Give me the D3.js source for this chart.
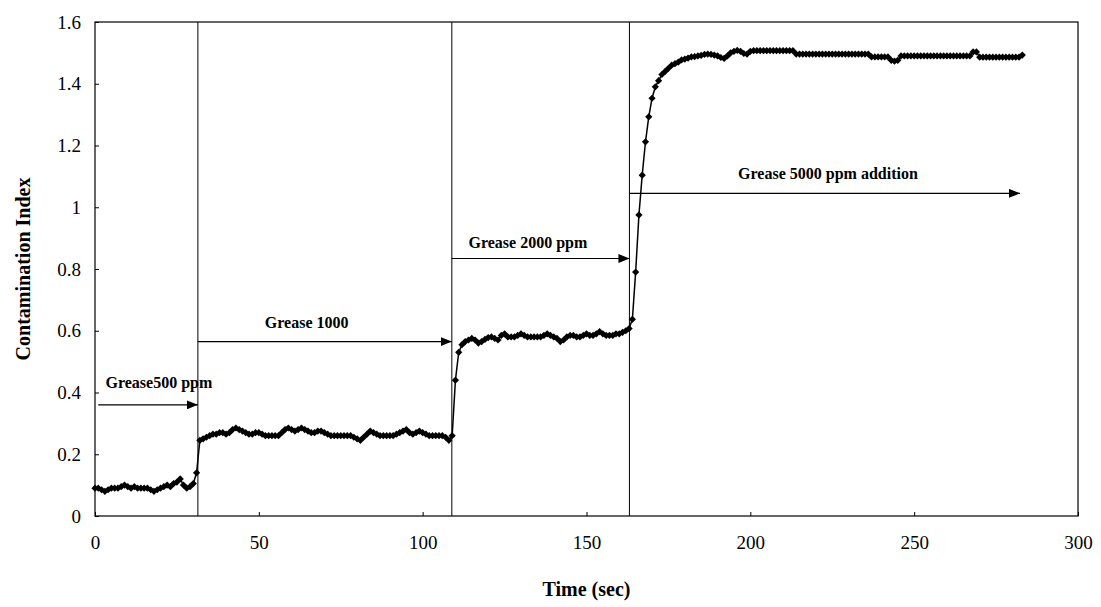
<!DOCTYPE html>
<html>
<head>
<meta charset="utf-8">
<script src="https://cdn.jsdelivr.net/npm/d3@7/dist/d3.min.js"></script>
<style>
  body { margin: 0; background: #fff; }
  text { font-family: "Liberation Serif", "Times New Roman", serif; fill: #000; }
</style>
</head>
<body>
<script>
// readings are one per second; each stage starts at the time in stageStart
var stageStart = [0, 32, 110, 164];

// t = 0 .. 31
var stage1 = [0.09, 0.09, 0.085, 0.08, 0.085, 0.09, 0.09, 0.09, 0.095, 0.1,
              0.095, 0.09, 0.095, 0.09, 0.09, 0.09, 0.09, 0.085, 0.08, 0.085,
              0.09, 0.095, 0.1, 0.095, 0.105, 0.11, 0.12, 0.1, 0.09, 0.095,
              0.105, 0.14];

// t = 32 .. 109
var stage2 = [0.245, 0.25, 0.255, 0.26, 0.265, 0.265, 0.27, 0.27, 0.265, 0.27,
              0.28, 0.285, 0.28, 0.275, 0.27, 0.265, 0.265, 0.27, 0.27, 0.265,
              0.26, 0.26, 0.26, 0.26, 0.26, 0.27, 0.28, 0.285, 0.28, 0.275,
              0.28, 0.285, 0.28, 0.275, 0.27, 0.27, 0.275, 0.275, 0.27, 0.265,
              0.26, 0.26, 0.26, 0.26, 0.26, 0.26, 0.26, 0.255, 0.25, 0.245,
              0.255, 0.265, 0.275, 0.27, 0.265, 0.26, 0.26, 0.26, 0.26, 0.26,
              0.265, 0.27, 0.275, 0.28, 0.27, 0.265, 0.27, 0.275, 0.27, 0.265,
              0.26, 0.26, 0.26, 0.26, 0.26, 0.255, 0.245, 0.26];

// t = 110 .. 163
var stage3 = [0.44, 0.53, 0.555, 0.565, 0.57, 0.575, 0.57, 0.56, 0.565, 0.572,
              0.578, 0.58, 0.575, 0.57, 0.585, 0.59, 0.58, 0.58, 0.58, 0.585,
              0.59, 0.585, 0.58, 0.58, 0.58, 0.58, 0.58, 0.585, 0.59, 0.585,
              0.58, 0.575, 0.565, 0.57, 0.58, 0.585, 0.585, 0.58, 0.58, 0.585,
              0.59, 0.585, 0.585, 0.59, 0.597, 0.59, 0.585, 0.585, 0.585, 0.59,
              0.59, 0.595, 0.6, 0.607];

// t = 164 .. 283
var stage4 = [0.637, 0.79, 0.975, 1.104, 1.212, 1.293, 1.353, 1.39, 1.41, 1.43,
              1.44, 1.45, 1.46, 1.465, 1.47, 1.477, 1.48, 1.483, 1.487, 1.488,
              1.49, 1.492, 1.495, 1.496, 1.495, 1.493, 1.49, 1.485, 1.482, 1.49,
              1.5, 1.505, 1.508, 1.505, 1.498, 1.496, 1.505, 1.507, 1.507, 1.507,
              1.507, 1.507, 1.507, 1.507, 1.507, 1.507, 1.507, 1.507, 1.507, 1.507,
              1.496, 1.496, 1.496, 1.496, 1.496, 1.496, 1.496, 1.496, 1.496, 1.496,
              1.496, 1.496, 1.496, 1.496, 1.496, 1.496, 1.496, 1.496, 1.496, 1.496,
              1.496, 1.496, 1.496, 1.487, 1.487, 1.487, 1.487, 1.487, 1.487, 1.476,
              1.473, 1.476, 1.49, 1.49, 1.49, 1.49, 1.49, 1.49, 1.49, 1.49,
              1.49, 1.49, 1.49, 1.49, 1.49, 1.49, 1.49, 1.49, 1.49, 1.49,
              1.49, 1.49, 1.49, 1.49, 1.503, 1.503, 1.486, 1.486, 1.486, 1.486,
              1.486, 1.486, 1.486, 1.486, 1.486, 1.486, 1.486, 1.486, 1.486, 1.493];

// times (sec) where the grease level was changed
var stepTimes = [31.4, 108.9, 163.1];

// annotations: text, arrow span (sec), arrow level, label level, label centre (sec)
var noteText = ['Grease500 ppm', 'Grease 1000', 'Grease 2000 ppm', 'Grease 5000 ppm addition'];
var noteFrom = [1, 31.4, 108.9, 163.1];
var noteTo = [31.4, 108.9, 163.1, 282.3];
var noteLevel = [0.36, 0.565, 0.834, 1.045];
var noteTextLevel = [0.416, 0.609, 0.867, 1.091];
var noteCentre = [19.5, 64.6, 132.1, 223.7];

var xTicks = [0, 50, 100, 150, 200, 250, 300];
var xTickLabels = ['0', '50', '100', '150', '200', '250', '300'];
var yTicks = [0, 0.2, 0.4, 0.6, 0.8, 1, 1.2, 1.4, 1.6];
var yTickLabels = ['0', '0.2', '0.4', '0.6', '0.8', '1', '1.2', '1.4', '1.6'];

var margin = {top: 22, right: 23, bottom: 91, left: 95},
    width = 1101 - margin.left - margin.right,
    height = 607 - margin.top - margin.bottom;

var x = d3.scaleLinear().domain([0, 300]).range([0, width]);
var y = d3.scaleLinear().domain([0, 1.6]).range([height, 0]);

var svgRoot = d3.select('body').append('svg')
    .attr('width', 1101)
    .attr('height', 607);

// arrow head for the annotation arrows
svgRoot.append('defs').append('marker')
    .attr('id', 'head')
    .attr('markerUnits', 'userSpaceOnUse')
    .attr('markerWidth', 11)
    .attr('markerHeight', 9)
    .attr('refX', 11)
    .attr('refY', 4.5)
    .attr('orient', 'auto')
    .append('path')
    .attr('d', 'M0,0 L11,4.5 L0,9 Z')
    .attr('fill', '#000');

var svg = svgRoot.append('g')
    .attr('transform', 'translate(' + margin.left + ',' + margin.top + ')');

// axes (ticks pointing inward)
var xAxis = svg.append('g')
    .attr('transform', 'translate(0,' + height + ')')
    .call(d3.axisBottom(x)
        .tickValues(xTicks)
        .tickFormat(function(d, i) { return xTickLabels[i]; })
        .tickSizeInner(-4).tickSizeOuter(0).tickPadding(20));
var yAxis = svg.append('g')
    .call(d3.axisLeft(y)
        .tickValues(yTicks)
        .tickFormat(function(d, i) { return yTickLabels[i]; })
        .tickSizeInner(-4).tickSizeOuter(0).tickPadding(14));
[xAxis, yAxis].forEach(function(a) {
    a.select('.domain').remove();
    a.selectAll('line').attr('stroke', '#000');
    a.selectAll('text')
        .style('font-family', '"Liberation Serif", "Times New Roman", serif')
        .style('font-size', '19px')
        .attr('fill', '#000');
});

// plot frame
svg.append('rect')
    .attr('x', 0).attr('y', 0)
    .attr('width', width).attr('height', height)
    .attr('fill', 'none')
    .attr('stroke', '#000')
    .attr('stroke-width', 1.2);

// vertical lines where grease was added
svg.selectAll('.step')
    .data(stepTimes)
    .enter().append('line')
    .attr('class', 'step')
    .attr('x1', function(d) { return x(d); })
    .attr('x2', function(d) { return x(d); })
    .attr('y1', 0).attr('y2', height)
    .attr('stroke', '#000')
    .attr('stroke-width', 1);

// annotation arrows and labels
var notes = noteText.map(function(t, i) {
    return {text: t, from: noteFrom[i], to: noteTo[i], level: noteLevel[i],
            textLevel: noteTextLevel[i], centre: noteCentre[i]};
});
svg.selectAll('.arrow')
    .data(notes)
    .enter().append('line')
    .attr('class', 'arrow')
    .attr('x1', function(d) { return x(d.from); })
    .attr('x2', function(d) { return x(d.to); })
    .attr('y1', function(d) { return y(d.level); })
    .attr('y2', function(d) { return y(d.level); })
    .attr('stroke', '#000')
    .attr('stroke-width', 1.2)
    .attr('marker-end', 'url(#head)');
svg.selectAll('.note')
    .data(notes)
    .enter().append('text')
    .attr('class', 'note')
    .attr('x', function(d) { return x(d.centre); })
    .attr('y', function(d) { return y(d.textLevel); })
    .attr('text-anchor', 'middle')
    .attr('font-size', '16px')
    .attr('font-weight', 'bold')
    .text(function(d) { return d.text; });

// the measured series
var points = [];
[stage1, stage2, stage3, stage4].forEach(function(arr, k) {
    arr.forEach(function(v, i) {
        points.push({t: stageStart[k] + i, v: v});
    });
});

var valueline = d3.line()
    .x(function(d) { return x(d.t); })
    .y(function(d) { return y(d.v); });

svg.append('path')
    .datum(points)
    .attr('fill', 'none')
    .attr('stroke', '#000')
    .attr('stroke-width', 1.5)
    .attr('d', valueline);

svg.selectAll('.pt')
    .data(points)
    .enter().append('path')
    .attr('class', 'pt')
    .attr('d', d3.symbol().type(d3.symbolSquare).size(26))
    .attr('transform', function(d) {
        return 'translate(' + x(d.t) + ',' + y(d.v) + ') rotate(45)';
    })
    .attr('fill', '#000');

// axis titles
svgRoot.append('text')
    .attr('transform', 'translate(23,' + (margin.top + height / 2) + ') rotate(-90)')
    .attr('text-anchor', 'middle')
    .attr('dominant-baseline', 'central')
    .attr('font-size', '20px')
    .attr('font-weight', 'bold')
    .text('Contamination Index');

svgRoot.append('text')
    .attr('x', margin.left + width / 2)
    .attr('y', 596)
    .attr('text-anchor', 'middle')
    .attr('font-size', '20px')
    .attr('font-weight', 'bold')
    .text('Time (sec)');
</script>
</body>
</html>
